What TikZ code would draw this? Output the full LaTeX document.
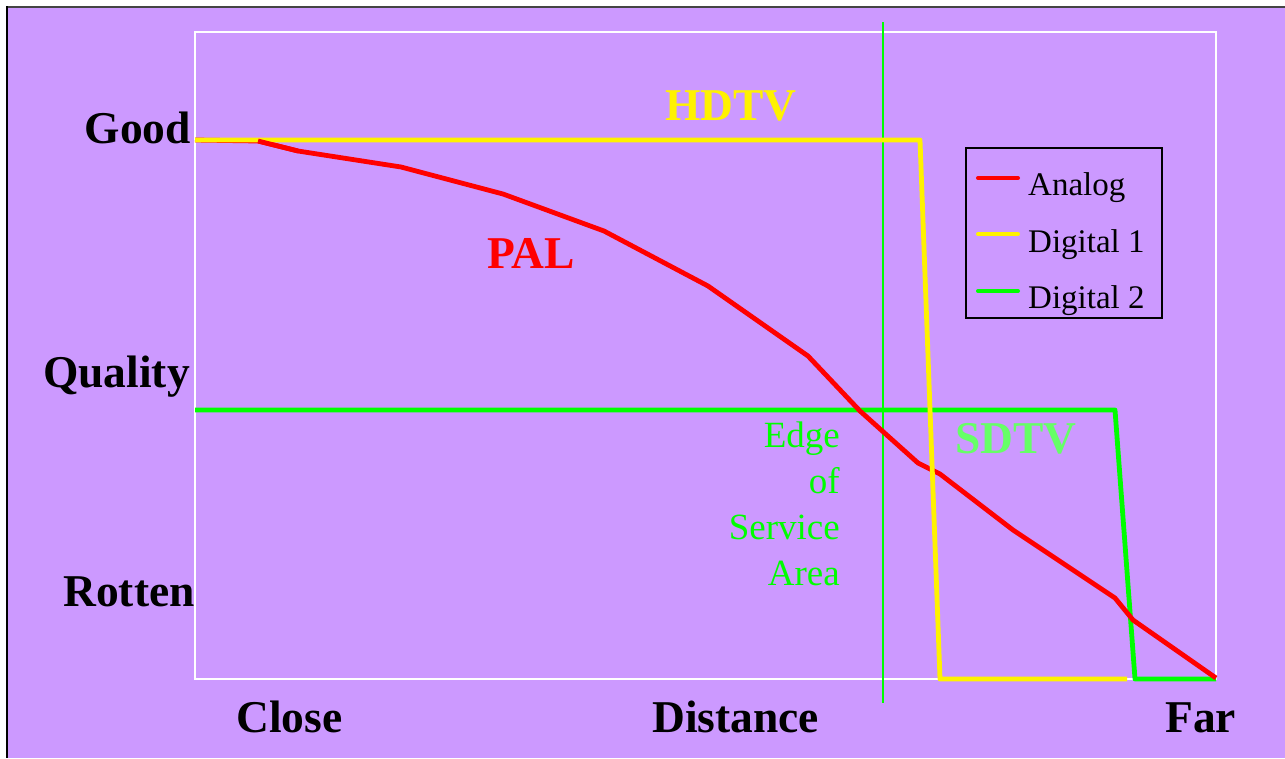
\documentclass[tikz,border=0pt]{standalone}
\usepackage{fontspec}
\setmainfont{Liberation Serif}
\definecolor{bgpurple}{HTML}{CC99FF}
\definecolor{sdgreen}{HTML}{66FF66}
\definecolor{bordergray}{HTML}{444444}
\tikzset{
  lbl/.style={inner sep=0pt, font=\fontsize{45.5}{50}\selectfont\bfseries},
  edgetxt/.style={inner sep=0pt, text=green, font=\fontsize{37}{40}\selectfont},
  legtxt/.style={inner sep=0pt, anchor=base west, font=\fontsize{33}{38}\selectfont},
  curve/.style={line width=4.8pt, line join=round},
}
\begin{document}
\begin{tikzpicture}[x=1pt,y=-1pt]
\useasboundingbox (0,0) rectangle (1285,758);
\fill[white] (0,0) rectangle (1285,758);
\fill[bgpurple] (7,7) rectangle (1285,758);
\draw[bordergray, line width=2pt] (6,6.5) -- (1285,6.5);
\draw[black, line width=2pt] (7,6) -- (7,758);
% plot frame
\draw[white, line width=1.3pt] (195,32) rectangle (1216,679);
% edge of service area line
\coordinate (vtop) at (883,22);
\coordinate (vbot) at (883,703);
\draw[green, line width=2pt] (vtop) -- (vbot);
% curves
\draw[curve, green] (195,410) -- (1115,410) -- (1135,679) -- (1216,679);
\draw[curve, red] (195,140) -- (258,141) -- (298,151) -- (401,167) -- (503,194) -- (604,231) -- (708,286) -- (808,356) -- (860,411) -- (918,463) -- (940,474) -- (1013,530) -- (1115,598) -- (1133,620) -- (1216,678);
\draw[curve, yellow] (195,140) -- (920,140) -- (940,679) -- (1127,679);
\draw[line width=4.8pt, red] (258,141) -- (298,151);
% axis labels
\node[lbl, anchor=base east] (good) at (191,143) {Good};
\node[lbl, anchor=base east] (quality) at (190,387) {Quality};
\node[lbl, anchor=base east] (rotten) at (195,606) {Rotten};
\node[lbl, anchor=base west] (close) at (236,732) {Close};
\node[lbl, anchor=base west] (distance) at (652,732) {Distance};
\node[lbl, anchor=base west] (far) at (1165,732) {Far};
% curve labels
\node[lbl, anchor=base west, text=yellow] (hdtv) at (665,120) {HDTV};
\node[lbl, anchor=base west, text=red] (pal) at (487,268) {PAL};
\node[lbl, anchor=base west, text=sdgreen] (sdtv) at (955,453) {SDTV};
% edge of service area text
\node[edgetxt, anchor=base east] (e1) at (840,447) {Edge};
\node[edgetxt, anchor=base east] (e2) at (840,493) {of};
\node[edgetxt, anchor=base east] (e3) at (840,539) {Service};
\node[edgetxt, anchor=base east] (e4) at (840,585) {Area};
% legend
\draw[black, line width=1.2pt] (966,148) rectangle (1162,318);
\draw[red, line width=4pt, line cap=round] (978,178) -- (1018,178);
\draw[yellow, line width=4pt, line cap=round] (978,234) -- (1018,234);
\draw[green, line width=4pt, line cap=round] (978,291) -- (1018,291);
\node[legtxt] (lanalog) at (1028,195) {Analog};
\node[legtxt] (ldig1) at (1028,252) {Digital 1};
\node[legtxt] (ldig2) at (1028,308) {Digital 2};
\end{tikzpicture}
\end{document}
